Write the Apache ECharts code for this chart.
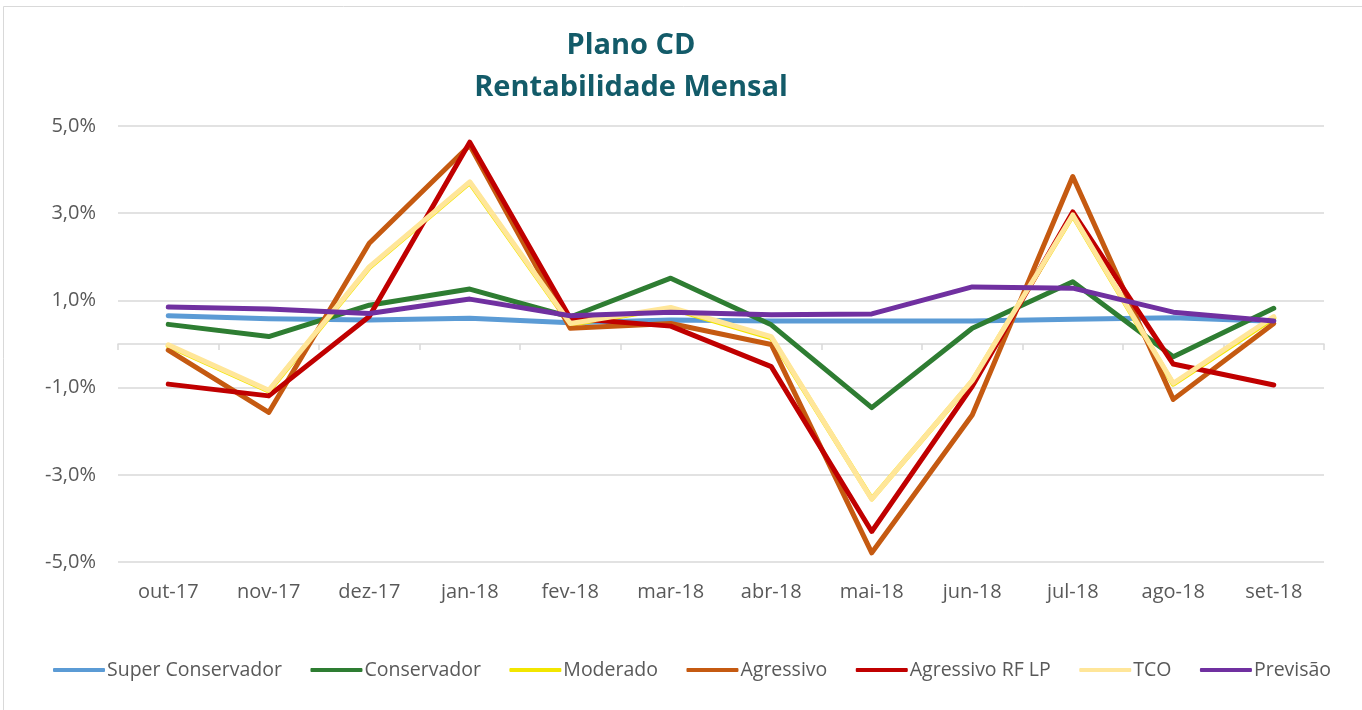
<!DOCTYPE html>
<html>
<head>
<meta charset="utf-8">
<script src="https://cdn.jsdelivr.net/npm/echarts@6/dist/echarts.min.js"></script>
<style>
html,body{margin:0;padding:0;background:#fff;}
#chart{width:1362px;height:710px;}
</style>
</head>
<body>
<div id="chart"></div>
<script>
const categories = ['out-17','nov-17','dez-17','jan-18','fev-18','mar-18','abr-18','mai-18','jun-18','jul-18','ago-18','set-18'];
const superConservador = [0.65, 0.58, 0.55, 0.59, 0.49, 0.55, 0.53, 0.53, 0.53, 0.57, 0.60, 0.52];
const conservador      = [0.45, 0.17, 0.89, 1.26, 0.62, 1.51, 0.44, -1.46, 0.36, 1.43, -0.29, 0.82];
const moderado         = [-0.04, -1.08, 1.75, 3.70, 0.45, 0.82, 0.14, -3.55, -0.85, 2.95, -0.92, 0.60];
const agressivo        = [-0.14, -1.57, 2.31, 4.56, 0.36, 0.47, -0.01, -4.79, -1.63, 3.84, -1.27, 0.47];
const agressivoRFLP    = [-0.92, -1.19, 0.63, 4.63, 0.59, 0.41, -0.52, -4.30, -0.97, 3.03, -0.46, -0.94];
const tco              = [-0.02, -1.06, 1.77, 3.72, 0.47, 0.84, 0.17, -3.56, -0.84, 2.96, -0.90, 0.63];
const previsao         = [0.85, 0.80, 0.70, 1.03, 0.65, 0.73, 0.67, 0.69, 1.31, 1.28, 0.73, 0.53];

const seriesNames = ['Super Conservador','Conservador','Moderado','Agressivo','Agressivo RF LP','TCO','Previsão'];
const seriesData = [superConservador, conservador, moderado, agressivo, agressivoRFLP, tco, previsao];
const colors = ['#5B9BD5','#2E7D32','#F2E600','#C55A11','#C00000','#FFE699','#7030A0'];

const chart = echarts.init(document.getElementById('chart'));
const font = '"Open Sans", sans-serif';
chart.setOption({
  animation: false,
  backgroundColor: '#fff',
  color: colors,
  title: {
    text: 'Plano CD\nRentabilidade Mensal',
    left: 631, top: 25, padding: 0, textAlign: 'center',
    textStyle: { fontFamily: font, fontSize: 29, fontWeight: 'bold', color: '#135B69', lineHeight: 42 }
  },
  graphic: [{
    type: 'rect', shape: { x: 3.5, y: 6.5, width: 1362, height: 710 },
    style: { fill: 'none', stroke: '#d9d9d9', lineWidth: 1 }, silent: true
  }],
  legend: {
    left: 53, top: 660, padding: 0,
    itemWidth: 52, itemHeight: 4, itemGap: 28.5,
    icon: 'roundRect',
    textStyle: { fontFamily: font, fontSize: 19.5, color: '#595959', padding: [0,0,0,-3] },
    data: seriesNames
  },
  grid: { left: 118, right: 38, top: 126, bottom: 148, containLabel: false },
  xAxis: [{
    type: 'category', data: categories, boundaryGap: true,
    axisLine: { onZero: true, lineStyle: { color: '#d9d9d9', width: 1.5 } },
    axisTick: { show: true, length: 6, lineStyle: { color: '#d9d9d9', width: 1.5 } },
    axisLabel: { show: false }
  }, {
    type: 'category', data: categories, boundaryGap: true, position: 'bottom',
    axisLine: { show: false, onZero: false }, axisTick: { show: false },
    axisLabel: { fontFamily: font, fontSize: 20, color: '#595959', margin: 20 }
  }],
  yAxis: {
    type: 'value', min: -5, max: 5, interval: 2,
    axisLine: { show: false }, axisTick: { show: false },
    splitLine: { lineStyle: { color: '#d9d9d9', width: 1.5 } },
    axisLabel: { fontFamily: font, fontSize: 20, color: '#595959', margin: 22,
      formatter: v => v.toFixed(1).replace('.', ',') + '%' }
  },
  series: seriesNames.map((n, i) => ({
    name: n, type: 'line', data: seriesData[i], xAxisIndex: 0,
    symbol: 'none', lineStyle: { width: 5, color: colors[i], cap: 'round', join: 'round' },
    itemStyle: { color: colors[i] }
  }))
});
</script>
</body>
</html>
